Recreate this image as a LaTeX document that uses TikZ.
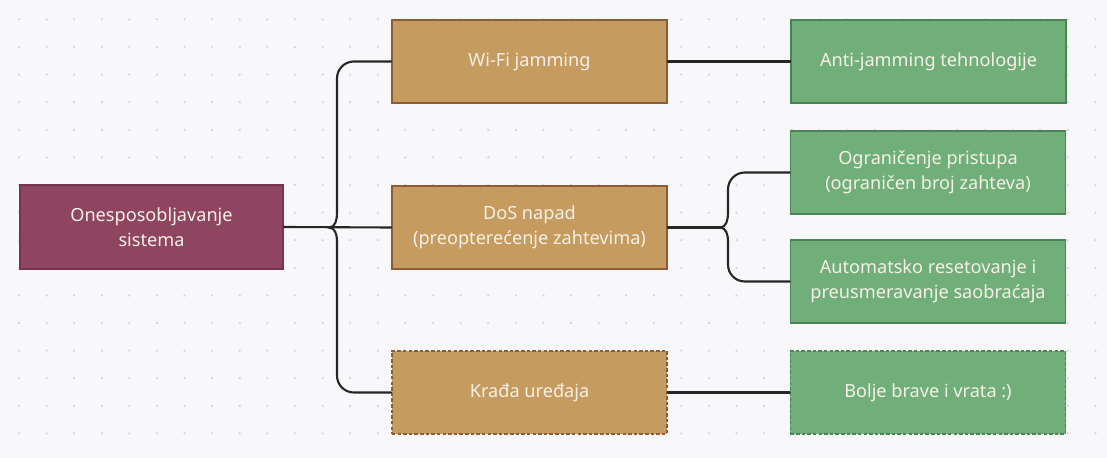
\documentclass[tikz,border=0pt]{standalone}
\usepackage{fontspec}
\setmainfont{Noto Sans}
\definecolor{pozadina}{RGB}{248,248,250}
\definecolor{tackica}{RGB}{214,214,220}
\definecolor{tekst}{RGB}{246,240,230}
\definecolor{korenfill}{RGB}{143,69,96}
\definecolor{korenline}{RGB}{118,52,78}
\definecolor{napadfill}{RGB}{197,155,95}
\definecolor{napadline}{RGB}{140,92,52}
\definecolor{zastitafill}{RGB}{112,175,122}
\definecolor{zastitaline}{RGB}{72,132,84}

\begin{document}
\begin{tikzpicture}[x=0.025cm, y=-0.025cm,
    box/.style={rectangle, draw, line width=1.1pt, text=tekst, align=center,
        font=\fontsize{12.9}{17.8}\selectfont, inner sep=0pt,
        minimum width=6.875cm, minimum height=2.075cm},
    koren/.style={box, fill=korenfill, draw=korenline,
        minimum width=6.575cm, minimum height=2.1cm},
    napad/.style={box, fill=napadfill, draw=napadline},
    zastita/.style={box, fill=zastitafill, draw=zastitaline},
    isprekidano/.style={dash pattern=on 2.5pt off 1.5pt},
    veza/.style={line width=1.5pt, draw=black!85, line cap=round}]

    % Pozadina sa tačkicama
    \fill[pozadina] (0,0) rectangle (1107,458);
    \useasboundingbox (0,0) rectangle (1107,458);
    \foreach \i in {0,...,39}
        \foreach \j in {0,...,16}
            \fill[tackica] (19+27.6*\i, 19.4+27.6*\j) circle[radius=0.9pt];

    % Čvorovi
    \node[koren] (sistem) at (151.5,227) {Onesposobljavanje\\sistema};
    \node[napad] (wifi) at (529.5,61.5) {Wi-Fi jamming};
    \node[napad] (dos) at (529.5,227.5) {DoS napad\\(preopterećenje zahtevima)};
    \node[napad, isprekidano] (kradja) at (529.5,392.5) {Krađa uređaja};
    \node[zastita] (anti) at (928.5,61.5) {Anti-jamming tehnologije};
    \node[zastita] (limit) at (928,172.5) {Ograničenje pristupa\\(ograničen broj zahteva)};
    \node[zastita] (reset) at (928,281.5) {Automatsko resetovanje i\\preusmeravanje saobraćaja};
    \node[zastita, isprekidano] (brave) at (928,392.5) {Bolje brave i vrata :)};

    % Pomoćne tačke za zagrade
    \coordinate (gore1) at (337,213);
    \coordinate (dole1) at (337,241);
    \coordinate (vrh1) at (329,227.5);
    \coordinate (gore2) at (728,213);
    \coordinate (dole2) at (728,241);
    \coordinate (vrh2) at (720,227.5);

    % Veze od korena
    \draw[veza] (sistem.east) -- (dos.west);
    \draw[veza, rounded corners=12] (wifi.west) -| (gore1);
    \draw[veza] (gore1) to[out=-90, in=0] (vrh1);
    \draw[veza, rounded corners=12] (kradja.west) -| (dole1);
    \draw[veza] (dole1) to[out=90, in=0] (vrh1);

    % Veze od napada ka zaštiti
    \draw[veza] (wifi.east) -- (anti.west);
    \draw[veza] (dos.east) -- (vrh2);
    \draw[veza, rounded corners=12] (limit.west) -| (gore2);
    \draw[veza] (gore2) to[out=-90, in=0] (vrh2);
    \draw[veza, rounded corners=12] (reset.west) -| (dole2);
    \draw[veza] (dole2) to[out=90, in=0] (vrh2);
    \draw[veza] (kradja.east) -- (brave.west);
\end{tikzpicture}
\end{document}
